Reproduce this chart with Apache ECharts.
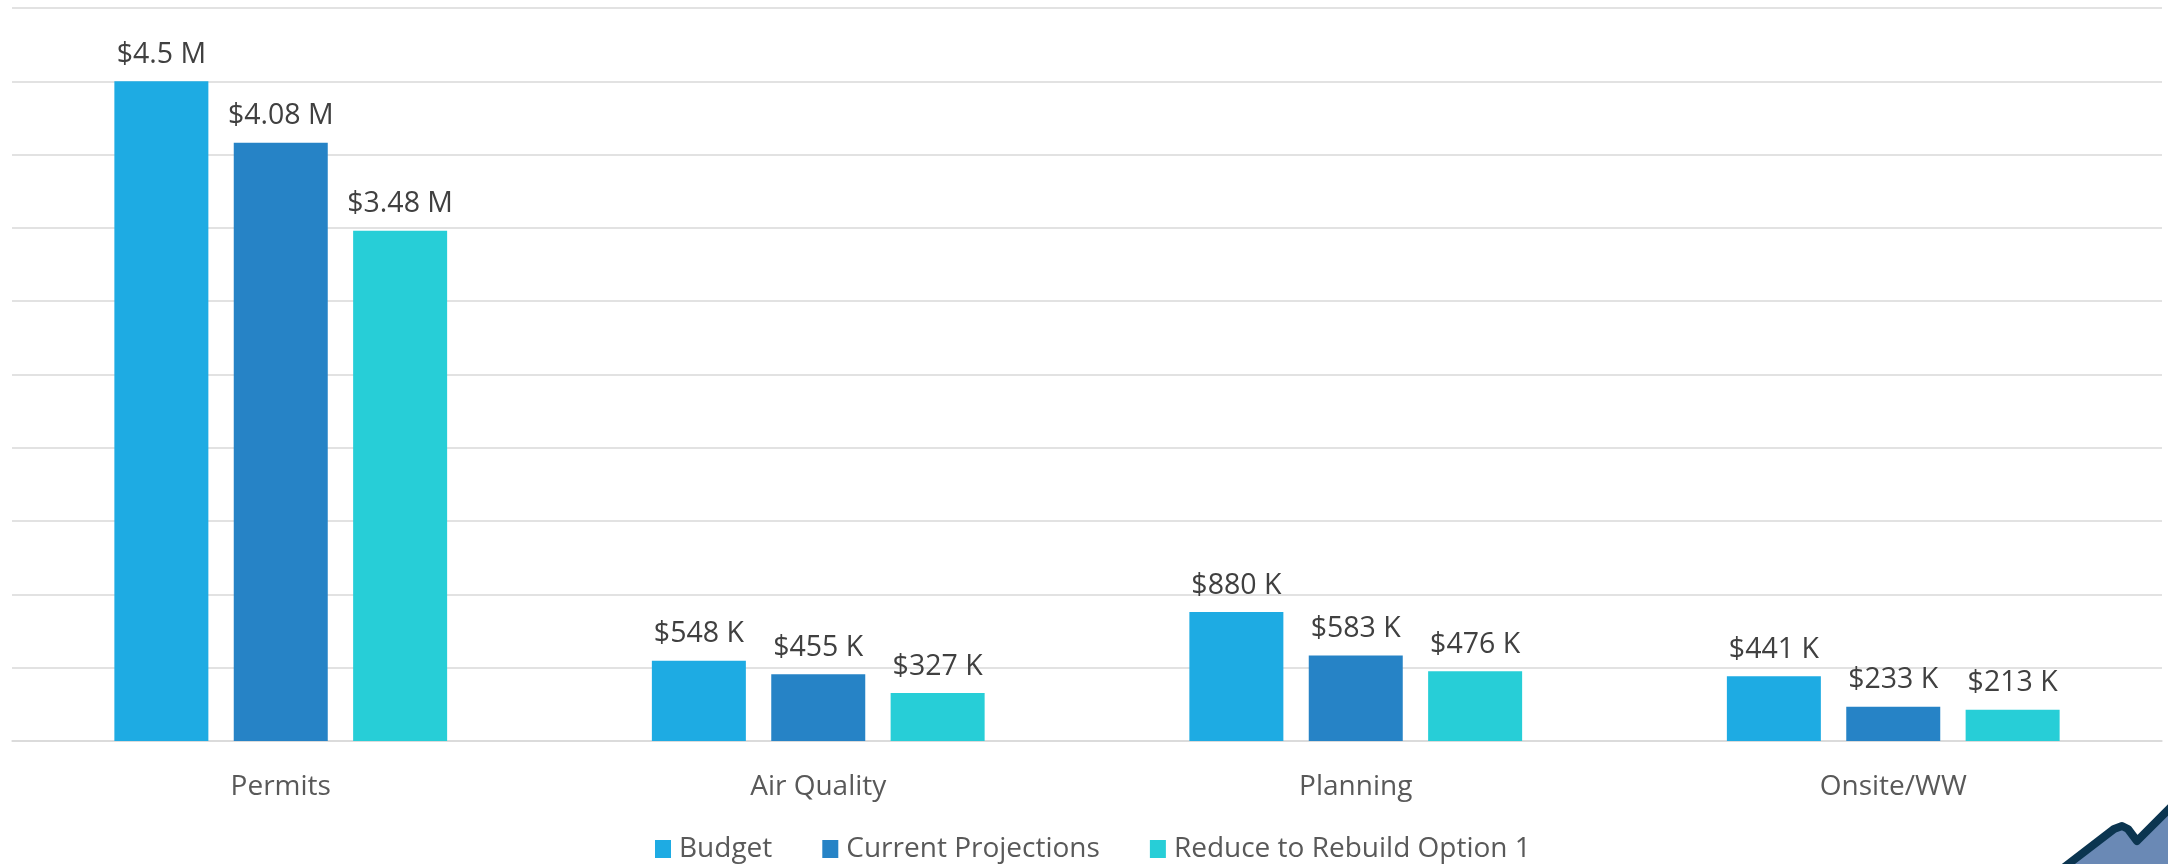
<!DOCTYPE html>
<html>
<head>
<meta charset="utf-8">
<style>html,body{margin:0;padding:0;background:#fff;}#c{width:2168px;height:864px;}</style>
<script src="https://cdn.jsdelivr.net/npm/echarts@6/dist/echarts.min.js"></script>
</head>
<body>
<div id="c"></div>
<script>
const categories = ['Permits', 'Air Quality', 'Planning', 'Onsite/WW'];
const seriesNames = ['Budget', 'Current Projections', 'Reduce to Rebuild Option 1'];
const budget = [4500000, 548000, 880000, 441000];
const current = [4080000, 455000, 583000, 233000];
const reduce = [3480000, 327000, 476000, 213000];
const colors = ['#1eabe3', '#2683c6', '#27ced7'];

function fmt(v) {
  if (v >= 1000000) return '$' + parseFloat((v / 1000000).toFixed(2)) + ' M';
  return '$' + Math.round(v / 1000) + ' K';
}

const chart = echarts.init(document.getElementById('c'));
const fontFam = '"Open Sans", "Noto Sans", sans-serif';
const mk = (name, data, color) => ({
  name, type: 'bar', data, barWidth: 94, barGap: '27%',
  itemStyle: { color },
  label: { show: true, position: 'top', distance: 12, formatter: p => fmt(p.value),
    color: '#404040', fontSize: 28.5, fontFamily: fontFam },
  emphasis: { disabled: true }
});
chart.setOption({
  animation: false,
  grid: { left: 12, right: 6, top: 8, bottom: 123, containLabel: false },
  legend: {
    data: seriesNames, bottom: -4, left: 650, icon: 'rect',
    itemWidth: 16, itemHeight: 18, itemGap: 50,
    textStyle: { color: '#595959', fontSize: 28, fontFamily: fontFam, padding: [0, 0, 0, 3] }
  },
  xAxis: {
    type: 'category', data: categories,
    axisLine: { lineStyle: { color: '#d9d9d9', width: 1.5 } },
    axisTick: { show: false },
    axisLabel: { color: '#595959', fontSize: 28, fontFamily: fontFam, margin: 32 }
  },
  yAxis: {
    type: 'value', min: 0, max: 5000000, interval: 500000,
    axisLabel: { show: false }, axisLine: { show: false }, axisTick: { show: false },
    splitLine: { lineStyle: { color: '#d9d9d9', width: 1.5 } }
  },
  series: [mk(seriesNames[0], budget, colors[0]), mk(seriesNames[1], current, colors[1]), mk(seriesNames[2], reduce, colors[2])],
  graphic: [
    { type: 'polygon', silent: true, shape: { points: [[2058,870],[2116,828],[2124,826],[2137,842],[2170,810],[2170,870]] },
      style: { fill: '#6a89b5' } },
    { type: 'polyline', silent: true, shape: { points: [[2058,872],[2114,829],[2122,826],[2128,829],[2137,841],[2172,806]] },
      style: { stroke: '#0b3550', lineWidth: 8, fill: null, lineJoin: 'round' } }
  ]
});
</script>
</body>
</html>
